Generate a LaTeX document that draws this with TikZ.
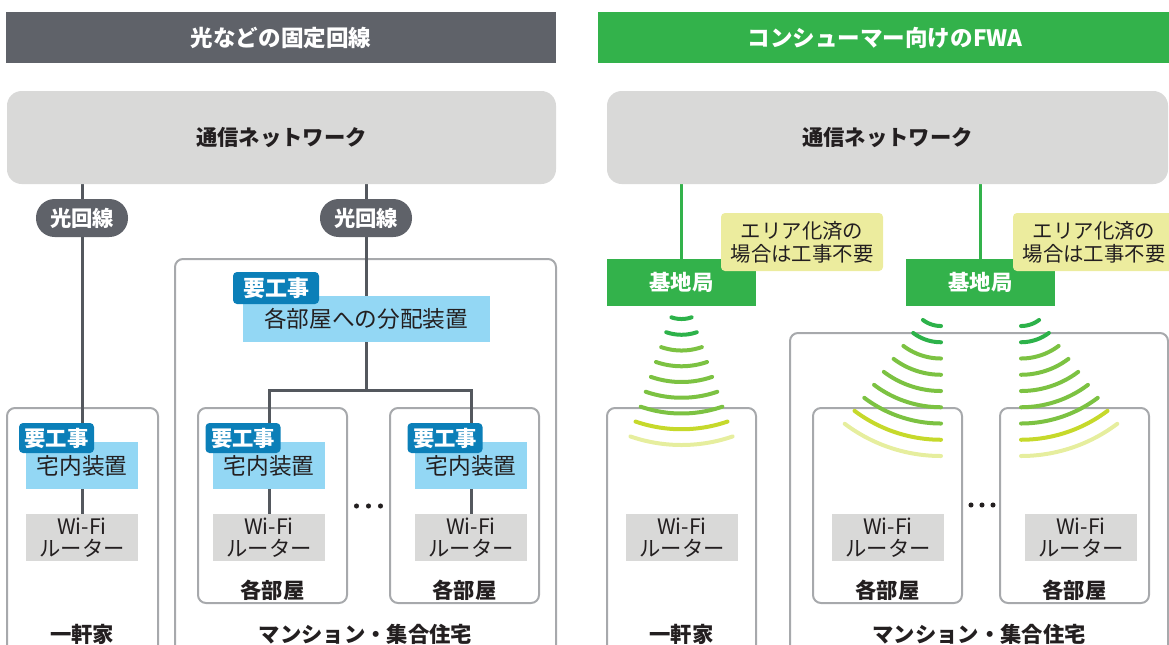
\documentclass[tikz,border=0pt]{standalone}
\usepackage{fontspec}
\setmainfont{Noto Sans CJK JP}
\usetikzlibrary{backgrounds}
\definecolor{hdgray}{HTML}{5F6269}
\definecolor{fgreen}{HTML}{33B24B}
\definecolor{netgray}{HTML}{D9D9D8}
\definecolor{boxline}{HTML}{A7A9AC}
\definecolor{wirec}{HTML}{54585E}
\definecolor{tagblue}{HTML}{0B7FB8}
\definecolor{lblue}{HTML}{93D7F4}
\definecolor{pyellow}{HTML}{ECEC9E}
\definecolor{txt}{HTML}{231F20}
\definecolor{wa}{HTML}{2DB24A}
\definecolor{wb}{HTML}{7CC242}
\definecolor{wc}{HTML}{C6D92B}
\definecolor{wd}{HTML}{E6EE9E}
\newcommand\fsz[2]{\fontsize{#1}{#2}\selectfont}
\begin{document}
\begin{tikzpicture}[x=0.75pt,y=-0.75pt,
  hdr/.style={rectangle, text=white, font=\bfseries\fsz{16.9pt}{20pt}, minimum height=38.25pt, inner sep=0pt},
  net/.style={rectangle, fill=netgray, rounded corners=11pt, text=txt, font=\bfseries\fsz{16pt}{19pt}, minimum height=69.75pt, inner sep=0pt},
  pill/.style={rectangle, fill=hdgray, rounded corners=14pt, text=white, font=\bfseries\fsz{16pt}{19pt}, minimum width=69pt, minimum height=28.5pt, inner sep=0pt},
  tagbox/.style={rectangle, fill=tagblue, rounded corners=3pt, text=white, font=\bfseries\fsz{16pt}{19pt}, minimum width=56.25pt, minimum height=22.5pt, inner sep=0pt},
  devbox/.style={rectangle, fill=lblue, text=txt, font=\fsz{17pt}{20pt}, minimum width=84pt, minimum height=35.25pt, inner sep=0pt},
  wifibox/.style={rectangle, fill=netgray, text=txt, align=center, font=\fsz{16pt}{16.5pt}, minimum width=84pt, minimum height=35.25pt, inner sep=0pt},
  station/.style={rectangle, fill=fgreen, text=white, font=\bfseries\fsz{16pt}{19pt}, minimum width=111.75pt, minimum height=35.25pt, inner sep=0pt},
  note/.style={rectangle, fill=pyellow, rounded corners=3pt, text=txt, align=center, font=\fsz{15.3pt}{17pt}, minimum width=121.5pt, minimum height=43.5pt, inner sep=0pt},
  frame/.style={draw=boxline, line width=1.5pt, rounded corners=6pt},
  lbl/.style={text=txt, font=\bfseries\fsz{16pt}{19pt}, inner sep=0pt},
  wire/.style={draw=wirec, line width=2.25pt},
  gwire/.style={draw=fgreen, line width=2.25pt},
  wave/.style={line width=3pt, line cap=round}
]
\useasboundingbox (0,0) rectangle (1169,644);

% headers
\node[hdr, fill=hdgray, minimum width=412.5pt] (hL) at (281,37.5) {光などの固定回線};
\node[hdr, fill=fgreen, minimum width=430.5pt] (hR) at (885,37.5) {コンシューマー向けのFWA};

% networks
\node[net, minimum width=411.75pt] (netL) at (281.5,137.5) {通信ネットワーク};
\node[net, minimum width=420.75pt] (netR) at (887.5,137.5) {通信ネットワーク};

% left side
\node[pill] (p1) at (82,218) {光回線};
\node[pill] (p2) at (366,218) {光回線};
\node[devbox, minimum width=185.25pt, minimum height=34.5pt, font=\fsz{17pt}{20pt}] (dist) at (366,319) {各部屋への分配装置};
\node[tagbox, minimum width=64.5pt, minimum height=24pt, font=\bfseries\fsz{16.5pt}{19pt}] (t0) at (276,288) {要工事};

\node[devbox] (d1) at (82,465.5) {宅内装置};
\node[devbox] (d2) at (269,465.5) {宅内装置};
\node[devbox] (d3) at (471,465.5) {宅内装置};
\node[tagbox] (t1) at (56.5,438) {要工事};
\node[tagbox] (t2) at (243,438) {要工事};
\node[tagbox] (t3) at (445,438) {要工事};

\node[wifibox] (w1) at (82,537.5) {Wi-Fi\\ルーター};
\node[wifibox] (w2) at (269,537.5) {Wi-Fi\\ルーター};
\node[wifibox] (w3) at (471,537.5) {Wi-Fi\\ルーター};

\node[lbl] (r1) at (272.5,590) {各部屋};
\node[lbl] (r2) at (464.5,590) {各部屋};
\node[lbl] (hs1) at (82,634) {一軒家};
\node[lbl] (ap1) at (365.5,634) {マンション・集合住宅};

% right side
\node[station] (s1) at (681.5,282.5) {基地局};
\node[station] (s2) at (980.5,282.5) {基地局};
\node[note] (n1) at (802,242) {エリア化済の\\場合は工事不要};
\node[note] (n2) at (1094,242) {エリア化済の\\場合は工事不要};

\node[wifibox] (w4) at (682,537.5) {Wi-Fi\\ルーター};
\node[wifibox] (w5) at (888,537.5) {Wi-Fi\\ルーター};
\node[wifibox] (w6) at (1081,537.5) {Wi-Fi\\ルーター};

\node[lbl] (r3) at (887.5,590) {各部屋};
\node[lbl] (r4) at (1074.5,590) {各部屋};
\node[lbl] (hs2) at (681.5,634) {一軒家};
\node[lbl] (ap2) at (979,634) {マンション・集合住宅};

\coordinate (j) at (366,390);

\begin{scope}[on background layer]
  % frames
  \draw[frame] (7,408) rectangle (158,670);
  \draw[frame] (175,259) rectangle (556,670);
  \draw[frame] (198,408) rectangle (347,603);
  \draw[frame] (390,408) rectangle (539,603);
  \draw[frame] (607,408) rectangle (756,670);
  \draw[frame] (790,333) rectangle (1168,670);
  \draw[frame] (813,408) rectangle (962,603);
  \draw[frame] (1000,408) rectangle (1149,603);
  % wires
  \draw[wire] (p1 |- netL.south) -- (d1.north);
  \draw[wire] (p2 |- netL.south) -- (dist.north);
  \draw[wire] (dist.south) -- (j);
  \draw[wire] (d2.north) |- (j) -| (d3.north);
  \draw[wire] (d1.south) -- (w1.north);
  \draw[wire] (d2.south) -- (w2.north);
  \draw[wire] (d3.south) -- (w3.north);
  \draw[gwire] (s1 |- netR.south) -- (s1.north);
  \draw[gwire] (s2 |- netR.south) -- (s2.north);
\end{scope}

% dots
\foreach \dx in {-12,0,12} \fill[txt] (368.5+\dx,506) circle[radius=1.9pt];
\foreach \dx in {-11,0,11} \fill[txt] (982+\dx,505) circle[radius=1.9pt];

% waves
\foreach \i/\c in {0/wa,1/wa,2/wb,3/wb,4/wb,5/wb,6/wb,7/wc,8/wd} {
  \draw[wave, \c] plot[domain=71:109, samples=24, smooth] ({681.5+(31+15.75*\i)*cos(\x)}, {288+(31+15.75*\i)*sin(\x)});
  \draw[wave, \c] plot[domain=90:127, samples=24, smooth] ({941+(30+16.25*\i)*cos(\x)}, {296+(30+16.25*\i)*sin(\x)});
  \draw[wave, \c] plot[domain=53:90, samples=24, smooth] ({1021+(30+16.25*\i)*cos(\x)}, {296+(30+16.25*\i)*sin(\x)});
}
\end{tikzpicture}
\end{document}
